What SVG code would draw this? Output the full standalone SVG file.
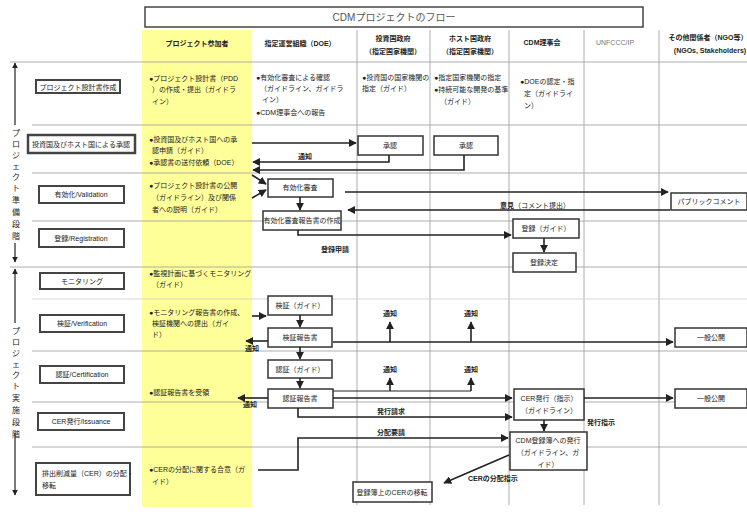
<svg xmlns="http://www.w3.org/2000/svg" width="747" height="512" viewBox="0 0 747 512">
<defs>
<marker id="arr" viewBox="0 0 10 10" refX="9" refY="5" markerWidth="5" markerHeight="5" orient="auto-start-reverse"><path d="M0,0 L10,5 L0,10 z" fill="#222"/></marker>
<style>
.t{font-family:'Liberation Sans','Noto Sans CJK JP',sans-serif;font-size:7px;fill:#222}
.h{font-family:'Liberation Sans','Noto Sans CJK JP',sans-serif;font-size:7px;fill:#222;font-weight:bold;text-anchor:middle}
.c{text-anchor:middle}
.b{font-weight:bold}
.grid{stroke:#999;stroke-width:0.8;fill:none}
.faint{stroke:#ccc;stroke-width:0.8;fill:none}
.conn{stroke:#222;stroke-width:1.6;fill:none}
.box{fill:#fff;stroke:#333;stroke-width:1.5}
.lbox{fill:#fff;stroke:#444;stroke-width:2}
</style>
</defs>
<rect width="747" height="512" fill="#fff"/>
<rect x="142" y="30" width="110" height="477" fill="#ffff99"/>

<g id="grid">
<path class="grid" d="M357,30V505M430,30V505M509,30V505M584,30V505M659,30V505"/>
<path class="grid" d="M10,62H747M32,125H747M32,173H747M32,221H747M10,267H747M32,351H747M32,402H747M32,447H747"/>
<path class="faint" d="M32,299H747"/>
</g>

<g id="title">
<rect x="145" y="7" width="498" height="20" fill="#fff" stroke="#444" stroke-width="1.5"/>
<text class="t c" x="394" y="21" style="font-size:10px;fill:#555">CDMプロジェクトのフロー</text>
</g>

<g id="headers">
<text class="h" x="197" y="46">プロジェクト参加者</text>
<text class="h" x="300" y="46">指定運営組織（DOE）</text>
<text class="h" x="393" y="41">投資国政府</text>
<text class="h" x="393" y="54">（指定国家機関）</text>
<text class="h" x="470" y="41">ホスト国政府</text>
<text class="h" x="470" y="54">（指定国家機関）</text>
<text class="h" x="542" y="45">CDM理事会</text>
<text class="h" x="615" y="45" style="fill:#777;font-weight:normal">UNFCCC/IP</text>
<text class="h" x="708" y="40">その他関係者（NGO等）</text>
<text class="h" x="710" y="53">(NGOs, Stakeholders)</text>
</g>

<g id="phases">
<path class="conn" d="M15,125V63" marker-end="url(#arr)" style="stroke-width:1.2"/>
<path class="conn" d="M15,243V262" marker-end="url(#arr)" style="stroke-width:1.2"/>
<text class="t c" style="font-size:8px">
<tspan x="16" y="136">プ</tspan><tspan x="16" y="147">ロ</tspan><tspan x="16" y="158">ジ</tspan><tspan x="16" y="169">ェ</tspan><tspan x="16" y="180">ク</tspan><tspan x="16" y="191">ト</tspan><tspan x="16" y="203">準</tspan><tspan x="16" y="215">備</tspan><tspan x="16" y="227">段</tspan><tspan x="16" y="239">階</tspan>
</text>
<path class="conn" d="M15,323V269" marker-end="url(#arr)" style="stroke-width:1.2"/>
<path class="conn" d="M15,433V495" marker-end="url(#arr)" style="stroke-width:1.2"/>
<text class="t c" style="font-size:8px">
<tspan x="16" y="334">プ</tspan><tspan x="16" y="345">ロ</tspan><tspan x="16" y="356">ジ</tspan><tspan x="16" y="367">ェ</tspan><tspan x="16" y="378">ク</tspan><tspan x="16" y="389">ト</tspan><tspan x="16" y="401">実</tspan><tspan x="16" y="413">施</tspan><tspan x="16" y="425">段</tspan><tspan x="16" y="437">階</tspan>
</text>
</g>

<g id="steps">
<g id="s1"><rect class="lbox" x="36" y="80" width="84" height="13"/><text class="t c" x="78" y="89.5">プロジェクト設計書作成</text></g>
<g id="s2"><rect class="lbox" x="28" y="135" width="107" height="18" style="stroke-width:2.5"/><text class="t c" x="81" y="147">投資国及びホスト国による承認</text></g>
<g id="s3"><rect class="lbox" x="39" y="186" width="85" height="17"/><text class="t c" x="81" y="197">有効化/Validation</text></g>
<g id="s4"><rect class="lbox" x="39" y="229" width="85" height="18"/><text class="t c" x="81" y="241">登録/Registration</text></g>
<g id="s5"><rect class="lbox" x="40" y="273" width="84" height="16"/><text class="t c" x="82" y="284">モニタリング</text></g>
<g id="s6"><rect class="lbox" x="40" y="315" width="84" height="17"/><text class="t c" x="82" y="326">検証/Verification</text></g>
<g id="s7"><rect class="lbox" x="40" y="366" width="84" height="17"/><text class="t c" x="82" y="377">認証/Certification</text></g>
<g id="s8"><rect class="lbox" x="38" y="413" width="86" height="17"/><text class="t c" x="81" y="424">CER発行/Issuance</text></g>
<g id="s9"><rect class="lbox" x="36" y="463" width="94" height="32"/><text class="t" x="42" y="476">排出削減量（CER）の分配・</text><text class="t" x="42" y="488">移転</text></g>
</g>

<g id="participants">
<text class="t" x="149" y="81">●プロジェクト設計書（PDD</text>
<text class="t" x="152" y="92">）の作成・提出（ガイドラ</text>
<text class="t" x="152" y="104">イン）</text>
<text class="t" x="149" y="142">●投資国及びホスト国への承</text>
<text class="t" x="152" y="153">認申請（ガイド）</text>
<text class="t" x="149" y="165">●承認書の送付依頼（DOE）</text>
<text class="t" x="149" y="188">●プロジェクト設計書の公開</text>
<text class="t" x="152" y="200">（ガイドライン）及び関係</text>
<text class="t" x="152" y="212">者への説明（ガイド）</text>
<text class="t" x="149" y="276">●監視計画に基づくモニタリング</text>
<text class="t" x="152" y="287">（ガイド）</text>
<text class="t" x="149" y="315">●モニタリング報告書の作成、</text>
<text class="t" x="152" y="326">検証機関への提出（ガイ</text>
<text class="t" x="152" y="337">ド）</text>
<text class="t" x="149" y="395">●認証報告書を受領</text>
<text class="t" x="149" y="472">●CERの分配に関する合意（ガ</text>
<text class="t" x="152" y="484">イド）</text>
</g>

<g id="row1">
<text class="t" x="256" y="80">●有効化審査による確認</text>
<text class="t" x="260" y="91">（ガイドライン、ガイドラ</text>
<text class="t" x="262" y="102">イン）</text>
<text class="t" x="256" y="115">●CDM理事会への報告</text>
<text class="t" x="362" y="80">●投資国の国家機関の</text>
<text class="t" x="362" y="91">指定（ガイド）</text>
<text class="t" x="434" y="80">●指定国家機関の指定</text>
<text class="t" x="434" y="92">●持続可能な開発の基準</text>
<text class="t" x="440" y="104">（ガイド）</text>
<text class="t" x="520" y="84">●DOEの認定・指</text>
<text class="t" x="524" y="96">定（ガイドライ</text>
<text class="t" x="524" y="108">ン）</text>
</g>

<g id="nodes">
<g id="n-app1"><rect class="box" x="358" y="136" width="65" height="19"/><text class="t c" x="390" y="148">承認</text></g>
<g id="n-app2"><rect class="box" x="434" y="136" width="64" height="19"/><text class="t c" x="466" y="148">承認</text></g>
<g id="n-val"><rect class="box" x="268" y="179" width="65" height="18"/><text class="t c" x="300" y="190">有効化審査</text></g>
<g id="n-valrep"><rect class="box" x="263" y="211" width="78" height="19"/><text class="t c" x="302" y="223">有効化審査報告書の作成</text></g>
<g id="n-pub"><rect class="box" x="671" y="193" width="76" height="17"/><text class="t c" x="709" y="204">パブリックコメント</text></g>
<g id="n-reg"><rect class="box" x="513" y="219" width="66" height="19"/><text class="t c" x="546" y="231">登録（ガイド）</text></g>
<g id="n-regdone"><rect class="box" x="513" y="253" width="63" height="19"/><text class="t c" x="544" y="265">登録決定</text></g>
<g id="n-ver"><rect class="box" x="268" y="296" width="64" height="19"/><text class="t c" x="300" y="308">検証（ガイド）</text></g>
<g id="n-verrep"><rect class="box" x="268" y="328" width="64" height="19"/><text class="t c" x="300" y="340">検証報告書</text></g>
<g id="n-open1"><rect class="box" x="675" y="328" width="72" height="19"/><text class="t c" x="711" y="340">一般公開</text></g>
<g id="n-cert"><rect class="box" x="268" y="360" width="64" height="18"/><text class="t c" x="300" y="372">認証（ガイド）</text></g>
<g id="n-certrep"><rect class="box" x="268" y="389" width="65" height="19"/><text class="t c" x="300" y="401">認証報告書</text></g>
<g id="n-issue"><rect class="box" x="514" y="389" width="70" height="31"/><text class="t c" x="549" y="401">CER発行（指示）</text><text class="t c" x="549" y="413">（ガイドライン）</text></g>
<g id="n-open2"><rect class="box" x="675" y="389" width="72" height="19"/><text class="t c" x="711" y="401">一般公開</text></g>
<g id="n-registry"><rect class="box" x="510" y="432" width="77" height="38"/><text class="t c" x="548" y="443">CDM登録簿への発行</text><text class="t c" x="548" y="455">（ガイドライン、ガ</text><text class="t c" x="548" y="467">イド）</text></g>
<g id="n-transfer"><rect class="box" x="353" y="482" width="79" height="20"/><text class="t c" x="392" y="495">登録簿上のCERの移転</text></g>
</g>

<g id="connectors">
<path class="conn" d="M252,143H356" marker-end="url(#arr)"/>
<path class="conn" d="M389,155V162H253" marker-end="url(#arr)"/>
<path class="conn" d="M464,155V170H253" marker-end="url(#arr)"/>
<path class="conn" d="M252,175L266,184" marker-end="url(#arr)"/>
<path class="conn" d="M252,198L266,190" marker-end="url(#arr)"/>
<path class="conn" d="M345,192H668" marker-end="url(#arr)"/>
<path class="conn" d="M670,210H348" marker-end="url(#arr)"/>
<path class="conn" d="M300,197V210" marker-end="url(#arr)"/>
<path class="conn" d="M298,230V235H511" marker-end="url(#arr)"/>
<path class="conn" d="M544,238V252" marker-end="url(#arr)"/>
<path class="conn" d="M252,316H266" marker-end="url(#arr)"/>
<path class="conn" d="M300,315V327" marker-end="url(#arr)"/>
<path class="conn" d="M268,341H246" marker-end="url(#arr)"/>
<path class="conn" d="M333,342H673" marker-end="url(#arr)"/>
<path class="conn" d="M390,342V322" marker-end="url(#arr)"/>
<path class="conn" d="M471,342V322" marker-end="url(#arr)"/>
<path class="conn" d="M300,347V359" marker-end="url(#arr)"/>
<path class="conn" d="M300,378V388" marker-end="url(#arr)"/>
<path class="conn" d="M268,398H238" marker-end="url(#arr)"/>
<path class="conn" d="M333,391H471" style="stroke-width:1.2"/>
<path class="conn" d="M390,391V378" marker-end="url(#arr)"/>
<path class="conn" d="M471,391V378" marker-end="url(#arr)"/>
<path class="conn" d="M333,398H512" marker-end="url(#arr)"/>
<path class="conn" d="M584,398H673" marker-end="url(#arr)"/>
<path class="conn" d="M298,408V417H512" marker-end="url(#arr)"/>
<path class="conn" d="M258,470H298V438H508" marker-end="url(#arr)"/>
<path class="conn" d="M544,420V431" marker-end="url(#arr)"/>
<path class="conn" d="M509,455L444,483" marker-end="url(#arr)"/>
<text class="t c b" x="305" y="159">通知</text>
<text class="t b" x="500" y="208">意見<tspan style="font-weight:normal">（コメント提出）</tspan></text>
<text class="t c b" x="335" y="252">登録申請</text>
<text class="t c b" x="390" y="316">通知</text>
<text class="t c b" x="471" y="316">通知</text>
<text class="t c b" x="252" y="351">通知</text>
<text class="t c b" x="390" y="372">通知</text>
<text class="t c b" x="471" y="372">通知</text>
<text class="t c b" x="250" y="407">通知</text>
<text class="t c b" x="391" y="414">発行請求</text>
<text class="t c b" x="391" y="435">分配要請</text>
<text class="t c b" x="601" y="425">発行指示</text>
<text class="t b" x="468" y="481">CERの分配指示</text>
</g>
</svg>
